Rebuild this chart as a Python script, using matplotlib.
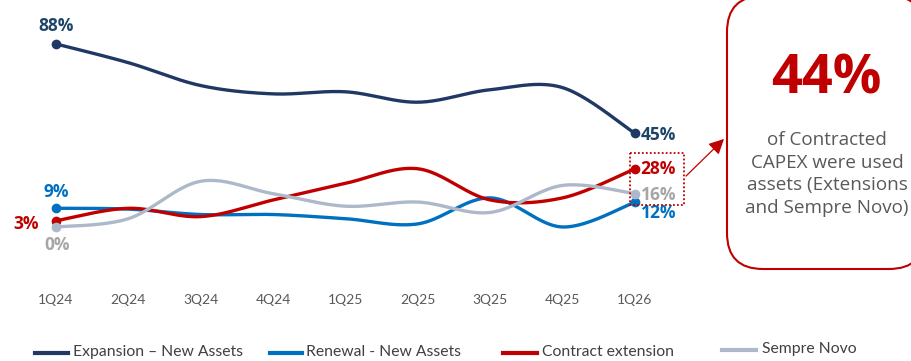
import numpy as np
import matplotlib
matplotlib.use("Agg")
import matplotlib.pyplot as plt
from matplotlib.patches import FancyBboxPatch, Rectangle, FancyArrowPatch

quarters = ["1Q24", "2Q24", "3Q24", "4Q24", "1Q25", "2Q25", "3Q25", "4Q25", "1Q26"]
expansion = [88, 79, 68, 64, 65, 60, 66, 67, 45]
renewal = [9, 8.6, 6, 6, 4, 1.5, 14, 0, 12]
extension = [3, 9, 5, 13, 21, 28, 13, 14, 28]
sempre = [0, 4, 22, 16, 10, 12, 7, 20, 16]
series_names = ["Expansion \u2013 New Assets", "Renewal - New Assets", "Contract extension", "Sempre Novo"]
highlight_value = "44%"
highlight_text = "of Contracted\nCAPEX were used\nassets (Extensions\nand Sempre Novo)"

c_exp = "#203864"
c_ren = "#0070C0"
c_ext = "#C00000"
c_sem = "#ADB9CA"
c_exp_lbl = "#1B4466"
c_sem_lbl = "#A6A6A6"

plt.rcParams['font.family'] = ['Lato', 'DejaVu Sans']
BOX_FONT = ["Open Sans", "DejaVu Sans"]


def smooth(y, n=40):
    y = np.asarray(y, float)
    x = np.arange(len(y), dtype=float)
    px = np.concatenate([[x[0]], x, [x[-1]]])
    py = np.concatenate([[y[0]], y, [y[-1]]])
    xs, ys = [], []
    t = np.linspace(0, 1, n)
    for i in range(1, len(px) - 2):
        p0x, p1x, p2x, p3x = px[i - 1], px[i], px[i + 1], px[i + 2]
        p0y, p1y, p2y, p3y = py[i - 1], py[i], py[i + 1], py[i + 2]
        b1x, b1y = p1x + (p2x - p0x) / 6, p1y + (p2y - p0y) / 6
        b2x, b2y = p2x - (p3x - p1x) / 6, p2y - (p3y - p1y) / 6
        bx = (1 - t) ** 3 * p1x + 3 * (1 - t) ** 2 * t * b1x + 3 * (1 - t) * t ** 2 * b2x + t ** 3 * p2x
        by = (1 - t) ** 3 * p1y + 3 * (1 - t) ** 2 * t * b1y + 3 * (1 - t) * t ** 2 * b2y + t ** 3 * p2y
        xs.append(bx)
        ys.append(by)
    return np.concatenate(xs), np.concatenate(ys)


W, H = 912, 361
fig = plt.figure(figsize=(W / 100, H / 100), dpi=100)
ax_l, ax_r, ax_t, ax_b = 20, 690, 10, 290
ax = fig.add_axes([ax_l / W, (H - ax_b) / H, (ax_r - ax_l) / W, (ax_b - ax_t) / H])
ppu = (635 - 56) / 8
ax.set_xlim(-(56 - ax_l) / ppu, 8 + (ax_r - 635) / ppu)
k = 2.08
ax.set_ylim((227 - ax_b) / k, (227 - ax_t) / k)
for s in ax.spines.values():
    s.set_visible(False)
ax.set_yticks([])
ax.set_xticks(range(len(quarters)))
ax.set_xticklabels(quarters, fontsize=10, color="#595959")
ax.tick_params(axis="x", length=0, pad=3)
ax.patch.set_alpha(0)

order = [(renewal, c_ren), (extension, c_ext), (sempre, c_sem), (expansion, c_exp)]
for vals, col in order:
    sx, sy = smooth(vals)
    ax.plot(sx, sy, color=col, lw=2.4, solid_capstyle="round", zorder=3)
    ax.plot([0, len(vals) - 1], [vals[0], vals[-1]], "o", color=col, ms=7, zorder=4, mec="none")

# endpoint labels
lbl_kw = dict(fontsize=12.5, fontweight="bold", zorder=5, family=BOX_FONT)
ax.annotate(f"{expansion[0]}%", (0, expansion[0]), xytext=(0, 13), textcoords="offset points",
            ha="center", va="center", color=c_exp_lbl, **lbl_kw)
ax.annotate(f"{renewal[0]}%", (0, renewal[0]), xytext=(0, 12), textcoords="offset points",
            ha="center", va="center", color=c_ren, **lbl_kw)
ax.annotate(f"{extension[0]}%", (0, extension[0]), xytext=(-12, -2), textcoords="offset points",
            ha="right", va="center", color=c_ext, **lbl_kw)
ax.annotate(f"{sempre[0]}%", (0, sempre[0]), xytext=(1, -13), textcoords="offset points",
            ha="center", va="center", color=c_sem_lbl, **lbl_kw)
n = len(quarters) - 1
ax.annotate(f"{expansion[-1]}%", (n, expansion[-1]), xytext=(4, -1), textcoords="offset points",
            ha="left", va="center", color=c_exp_lbl, **lbl_kw)
ax.annotate(f"{extension[-1]}%", (n, extension[-1]), xytext=(4, 0), textcoords="offset points",
            ha="left", va="center", color=c_ext, **lbl_kw)
ax.annotate(f"{sempre[-1]}%", (n, sempre[-1]), xytext=(4, -1), textcoords="offset points",
            ha="left", va="center", color=c_sem_lbl, **lbl_kw)
ax.annotate(f"{renewal[-1]}%", (n, renewal[-1]), xytext=(4, -8), textcoords="offset points",
            ha="left", va="center", color=c_ren, **lbl_kw)

# overlay in pixel coordinates for annotation decorations
ov = fig.add_axes([0, 0, 1, 1], zorder=10)
ov.set_xlim(0, W)
ov.set_ylim(H, 0)
ov.axis("off")
ov.patch.set_alpha(0)

ov.add_patch(Rectangle((630, 153), 54, 52, fill=False, ec=c_ext, lw=1.3, ls=(0, (1, 1.2))))
ov.add_patch(FancyArrowPatch((684, 178), (726, 137), arrowstyle="-|>,head_length=7,head_width=3.5",
                             color=c_ext, lw=0.9, mutation_scale=1.3))

ov.add_patch(FancyBboxPatch((727, -4), 198, 273, boxstyle="round,pad=0,rounding_size=36",
                            fc="white", ec=c_ext, lw=1.5, mutation_aspect=1))
ov.text(826, 80, highlight_value, ha="center", va="center", fontsize=39,
        fontweight="bold", color=c_ext, family=BOX_FONT)
ov.text(827, 174, highlight_text, ha="center", va="center", fontsize=13.6,
        color="#595959", family=BOX_FONT, linespacing=1.33)

# legend
leg = [(35, 68, 73, 352, c_exp), (270, 302, 306, 352, c_ren), (503, 537, 542, 352, c_ext), (722, 756, 762, 349, c_sem)]
for (x0, x1, tx, ty, col), name in zip(leg, series_names):
    ov.plot([x0, x1], [ty + 1, ty + 1], color=col, lw=3)
    ov.text(tx, ty, name, ha="left", va="center", fontsize=11.3, color="#404040")

fig.savefig("out.png", dpi=100)
